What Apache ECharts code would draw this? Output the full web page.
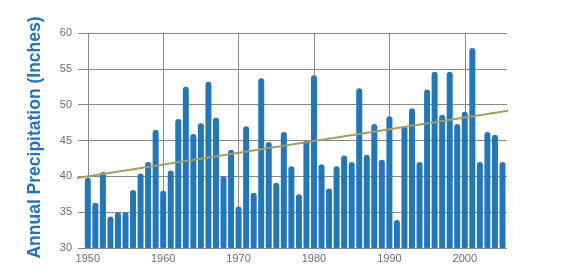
<!DOCTYPE html>
<html>
<head>
<meta charset="utf-8">
<script src="https://cdn.jsdelivr.net/npm/echarts@6/dist/echarts.min.js"></script>
<style>
  html, body { margin: 0; padding: 0; background: #ffffff; }
  #chart { width: 574px; height: 274px; }
</style>
</head>
<body>
<div id="chart"></div>
<script>
const years = [];
for (let y = 1950; y <= 2005; y++) years.push(y);

const precipitation = [
  39.8, 36.3, 40.6, 34.4, 35.0, 35.0, 38.1, 40.4, 42.0, 46.5,
  38.0, 40.8, 48.0, 52.5, 45.9, 47.4, 53.2, 48.2, 40.0, 43.7,
  35.8, 47.0, 37.7, 53.7, 44.8, 39.1, 46.2, 41.4, 37.5, 45.0,
  54.1, 41.7, 38.3, 41.4, 42.9, 42.0, 52.3, 43.0, 47.3, 42.3,
  48.4, 33.9, 47.0, 49.5, 42.0, 52.1, 54.6, 48.6, 54.6, 47.3,
  49.0, 57.9, 42.0, 46.2, 45.8, 42.0
];

const trendYears = [1948.4, 2006.0];
const trendValues = [39.75, 49.2];

const yTitle = 'Annual Precipitation (Inches)';

const chart = echarts.init(document.getElementById('chart'), null, { renderer: 'canvas' });

chart.setOption({
  backgroundColor: '#ffffff',
  animation: false,
  grid: { left: 78, right: 67, top: 33, bottom: 26, containLabel: false },
  xAxis: {
    type: 'value',
    min: 1948.7,
    max: 2005.6,
    minInterval: 10,
    maxInterval: 10,
    axisLine: { show: false },
    axisTick: { show: false },
    axisLabel: {
      showMinLabel: false,
      showMaxLabel: false,
      color: '#6e6e6e',
      fontFamily: 'Liberation Sans',
      fontSize: 11,
      margin: 5,
      formatter: v => (Math.abs(v % 10) < 1e-6 ? String(v) : '')
    },
    splitLine: {
      show: true,
      showMinLine: false,
      showMaxLine: false,
      lineStyle: { color: '#8a8a8a', width: 1 }
    }
  },
  yAxis: {
    type: 'value',
    min: 30,
    max: 60,
    interval: 5,
    name: yTitle,
    nameLocation: 'middle',
    nameRotate: 90,
    nameGap: 34,
    nameTextStyle: {
      color: '#2172c0',
      fontFamily: 'Liberation Sans',
      fontWeight: 'bold',
      fontSize: 17.5,
      padding: [0, 0, 0, 6]
    },
    axisLine: { show: false },
    axisTick: { show: false },
    axisLabel: {
      color: '#6e6e6e',
      fontFamily: 'Liberation Sans',
      fontSize: 11,
      margin: 6
    },
    splitLine: { show: true, lineStyle: { color: '#8a8a8a', width: 1 } }
  },
  series: [
    {
      type: 'bar',
      data: years.map((y, i) => [y, precipitation[i]]),
      barWidth: 6,
      itemStyle: { color: '#2277b9', borderRadius: [3, 3, 1, 1] },
      z: 2
    },
    {
      type: 'line',
      data: trendYears.map((y, i) => [y, trendValues[i]]),
      showSymbol: false,
      symbol: 'none',
      clip: false,
      lineStyle: { color: '#a89c5c', width: 2 },
      z: 3
    }
  ]
});
</script>
</body>
</html>
